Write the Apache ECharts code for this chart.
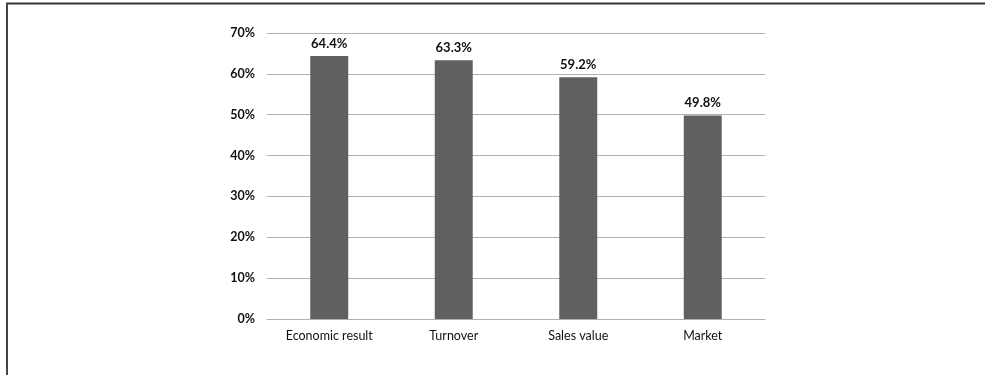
<!DOCTYPE html>
<html>
<head>
<meta charset="utf-8">
<script src="https://cdn.jsdelivr.net/npm/echarts@6/dist/echarts.min.js"></script>
<style>
  html, body { margin: 0; padding: 0; background: #fff; }
  #chart { width: 985px; height: 375px; }
</style>
</head>
<body>
<div id="chart"></div>
<script>
// Share of respondents per indicator (percent)
const categories = ['Economic result', 'Turnover', 'Sales value', 'Market'];
const values = [64.4, 63.3, 59.2, 49.8];
const yTicks = [0, 10, 20, 30, 40, 50, 60, 70];

const FONT = 'Lato';
const chart = echarts.init(document.getElementById('chart'), null, { renderer: 'canvas' });

chart.setOption({
  animation: false,
  backgroundColor: '#ffffff',
  grid: { left: 267, right: 220, top: 33, bottom: 56, containLabel: false },
  xAxis: {
    type: 'category',
    data: categories,
    axisLine: { show: true, lineStyle: { color: '#b0b0b0', width: 1 } },
    axisTick: { show: false },
    axisLabel: { color: '#111', fontFamily: FONT, fontSize: 12.5, margin: 10 }
  },
  yAxis: {
    type: 'value',
    min: yTicks[0],
    max: yTicks[yTicks.length - 1],
    interval: yTicks[1] - yTicks[0],
    axisLine: { show: false },
    axisTick: { show: false },
    splitLine: { lineStyle: { color: '#b0b0b0', width: 1 } },
    axisLabel: {
      color: '#111', fontFamily: FONT, fontSize: 12.5, fontWeight: 'bold', margin: 12,
      formatter: v => v + '%'
    }
  },
  series: [{
    type: 'bar',
    data: values,
    barWidth: '30.5%',
    itemStyle: { color: '#606060' },
    label: {
      show: true, position: 'top', distance: 6,
      color: '#111', fontFamily: FONT, fontSize: 13, fontWeight: 'bold',
      formatter: p => p.value.toFixed(1) + '%'
    }
  }],
  graphic: [
    { type: 'line', shape: { x1: 6, y1: 3.5, x2: 985, y2: 3.5 }, style: { stroke: '#333', lineWidth: 2 } },
    { type: 'line', shape: { x1: 7, y1: 3, x2: 7, y2: 375 }, style: { stroke: '#444', lineWidth: 2 } }
  ]
});
</script>
</body>
</html>
